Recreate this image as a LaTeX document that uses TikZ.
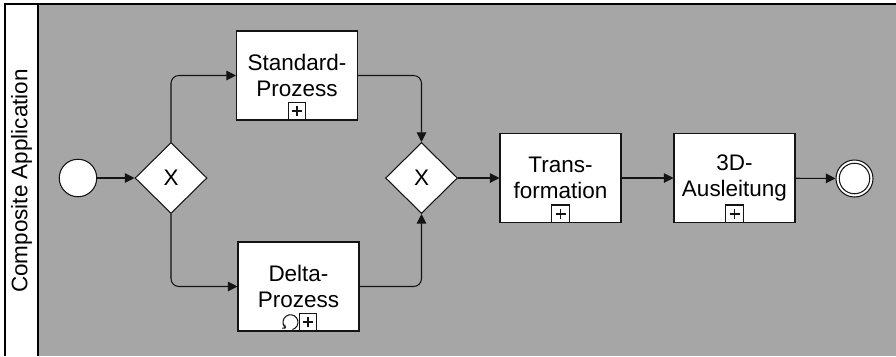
\documentclass[tikz,border=0pt]{standalone}
\usepackage{fontspec}
\setmainfont{Liberation Sans}
\usetikzlibrary{arrows.meta, shapes.geometric, positioning}
\definecolor{LaneGray}{RGB}{166,166,166}
\definecolor{EdgeBlack}{RGB}{20,20,20}

\begin{document}
\begin{tikzpicture}[x=0.02cm, y=-0.02cm, font=\fontsize{12.8}{14.5}\selectfont, line width=0.6pt,
	task/.style={rectangle, draw=EdgeBlack, fill=white, minimum width=2.42cm, minimum height=1.78cm, align=center, inner sep=2pt},
	gate/.style={diamond, draw=EdgeBlack, fill=white, minimum width=1.44cm, minimum height=1.42cm, inner sep=0pt},
	event/.style={circle, draw=EdgeBlack, fill=white, minimum size=0.75cm, inner sep=0pt},
	subproc/.style={rectangle, draw=EdgeBlack, fill=white, minimum size=0.35cm, inner sep=0pt, anchor=south,
		path picture={\draw[line width=1pt] ([xshift=-0.1cm]path picture bounding box.center) -- ([xshift=0.1cm]path picture bounding box.center)
			([yshift=-0.1cm]path picture bounding box.center) -- ([yshift=0.1cm]path picture bounding box.center);}},
	flow/.style={EdgeBlack, -{Triangle[length=5.5pt, width=5.5pt]}, rounded corners=4.5pt}]
	\useasboundingbox (0,0) rectangle (896,356);
	% lane
	\fill[LaneGray] (38,4) rectangle (896,356);
	\draw[line width=0.8pt] (896,4) -- (5,4) -- (5,356);
	\draw[line width=0.8pt] (38,4) -- (38,356);
	\node[rotate=90] (pool) at (21.5,181) {Composite Application};
	% events and gateways
	\node[event] (start) at (78,178) {};
	\node[gate] (gw1) at (171,178) {X};
	\node[gate] (gw2) at (421.5,178) {X};
	\node[event, minimum size=0.74cm] (end) at (854.5,178.5) {};
	\draw[EdgeBlack] (end.center) circle[radius=0.305cm];
	% tasks
	\node[task] (std) at (297,75.5) {Standard-\\Prozess};
	\node[task] (dlt) at (298.5,286.5) {Delta-\\Prozess};
	\node[task] (trf) at (560.5,178) {Trans-\\formation};
	\node[task] (aus) at (734.5,178) {3D-\\Ausleitung};
	\foreach \t in {std, trf, aus}
		\node[subproc] (\t-plus) at (\t.south) {};
	\node[subproc] (dlt-plus) at ([xshift=0.19cm]dlt.south) {};
	\coordinate (dlt-loop) at ([xshift=-0.35cm]dlt-plus.center);
	\draw[EdgeBlack, -{Straight Barb[length=1.5pt, width=2.5pt]}] (dlt-loop) ++(-75:0.15cm) arc[start angle=-75, end angle=235, radius=0.15cm];
	% sequence flows
	\draw[flow] (start) -- (gw1);
	\draw[flow] (gw1.north) |- (std);
	\draw[flow] (gw1.south) |- (dlt);
	\draw[flow] (std) -| (gw2.north);
	\draw[flow] (dlt) -| (gw2.south);
	\draw[flow] (gw2) -- (trf);
	\draw[flow] (trf) -- (aus);
	\draw[flow] (aus) -- (end);
\end{tikzpicture}
\end{document}
